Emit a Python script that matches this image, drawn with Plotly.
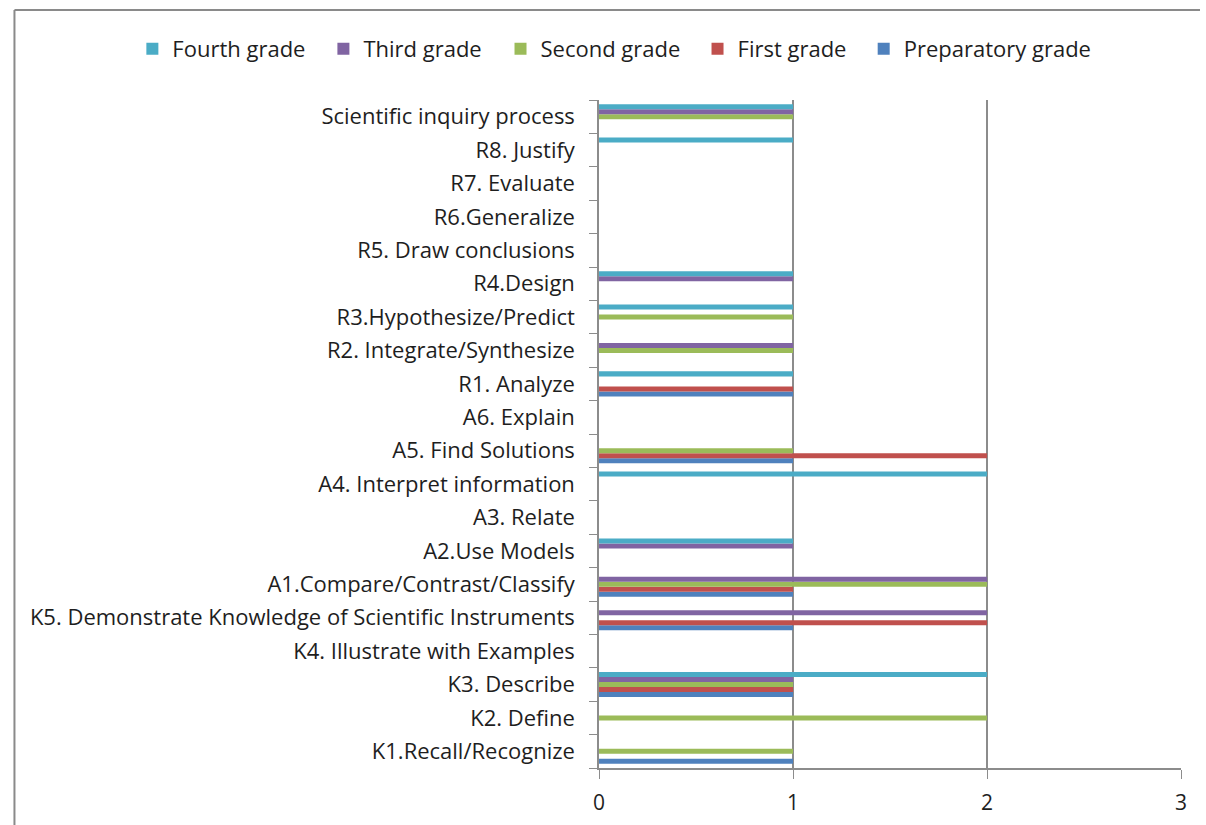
import plotly.graph_objects as go

# Skill categories, listed bottom to top
categories = [
    "K1.Recall/Recognize",
    "K2. Define",
    "K3. Describe",
    "K4. Illustrate with Examples",
    "K5. Demonstrate Knowledge of Scientific Instruments",
    "A1.Compare/Contrast/Classify",
    "A2.Use Models",
    "A3. Relate",
    "A4. Interpret information",
    "A5. Find Solutions",
    "A6. Explain",
    "R1. Analyze",
    "R2. Integrate/Synthesize",
    "R3.Hypothesize/Predict",
    "R4.Design",
    "R5. Draw conclusions",
    "R6.Generalize",
    "R7. Evaluate",
    "R8. Justify",
    "Scientific inquiry process",
]

preparatory = [1, 0, 1, 0, 1, 1, 0, 0, 0, 1, 0, 1, 0, 0, 0, 0, 0, 0, 0, 0]
first_grade = [0, 0, 1, 0, 2, 1, 0, 0, 0, 2, 0, 1, 0, 0, 0, 0, 0, 0, 0, 0]
second_grade = [1, 2, 1, 0, 0, 2, 0, 0, 0, 1, 0, 0, 1, 1, 0, 0, 0, 0, 0, 1]
third_grade = [0, 0, 1, 0, 2, 2, 1, 0, 0, 0, 0, 0, 1, 0, 1, 0, 0, 0, 0, 1]
fourth_grade = [0, 0, 2, 0, 0, 0, 1, 0, 2, 0, 0, 1, 0, 1, 1, 0, 0, 0, 1, 1]

series = [
    ("Preparatory grade", preparatory, "#4F81BD"),
    ("First grade", first_grade, "#C0504D"),
    ("Second grade", second_grade, "#9BBB59"),
    ("Third grade", third_grade, "#8064A2"),
    ("Fourth grade", fourth_grade, "#4BACC6"),
]

x_ticks = [0, 1, 2, 3]

W, H = 1206, 825
EFF_W = 1200  # drawable width of the page
FONT = "Open Sans"
TEXT = "#1E1E1E"

# left edge (px) of each series' legend entry, one small legend per series
legend_left = {
    "Fourth grade": 127,
    "Third grade": 319,
    "Second grade": 497,
    "First grade": 695,
    "Preparatory grade": 862,
}

fig = go.Figure()
legend_layouts = {}
for i, (name, vals, color) in enumerate(series):
    key = "legend" if i == 0 else f"legend{i + 1}"
    fig.add_trace(go.Bar(
        y=categories, x=vals, name=name, orientation="h",
        marker=dict(color=color, line=dict(width=0)),
        legend=key, showlegend=True,
    ))
    legend_layouts[key] = dict(
        orientation="h", visible=True,
        x=legend_left[name] / EFF_W, xanchor="left",
        y=1 - 49 / H, yanchor="middle",
        font=dict(family=FONT, size=22, color=TEXT),
        itemwidth=30, bgcolor="rgba(0,0,0,0)",
    )

# plot area in pixel terms
px_left, px_right, px_top, px_bottom = 596, 1181, 100, 768

fig.update_layout(
    width=W, height=H,
    margin=dict(l=0, r=0, t=0, b=0),
    showlegend=True,
    paper_bgcolor="white", plot_bgcolor="white",
    barmode="group", bargap=0.25, bargroupgap=0,
    font=dict(family=FONT, size=22, color=TEXT),
    xaxis=dict(
        domain=[px_left / EFF_W, px_right / EFF_W],
        range=[0, 3], tickvals=x_ticks,
        showgrid=True, gridcolor="#8C8C8C", gridwidth=1.5,
        showline=True, linecolor="#8C8C8C", linewidth=1.5,
        ticks="outside", ticklen=9, tickcolor="#8C8C8C",
        tickfont=dict(family=FONT, size=21, color=TEXT),
        ticklabelstandoff=6,
        zeroline=False, fixedrange=True,
    ),
    yaxis=dict(
        domain=[1 - px_bottom / H, 1 - px_top / H],
        type="category", categoryorder="array", categoryarray=categories,
        tickson="boundaries", ticks="outside", ticklen=8, tickcolor="#8C8C8C",
        showline=True, linecolor="#8C8C8C", linewidth=1.5,
        showgrid=False, automargin=False,
        tickfont=dict(family=FONT, size=22, color=TEXT),
        ticklabelstandoff=18,
        fixedrange=True,
    ),
    shapes=[
        dict(type="line", xref="paper", yref="paper",
             x0=8.5 / EFF_W, x1=8.5 / EFF_W, y0=0, y1=1 - 10 / H,
             line=dict(color="#8A8A8A", width=2)),
        dict(type="line", xref="paper", yref="paper",
             x0=8.5 / EFF_W, x1=1, y0=1 - 10 / H, y1=1 - 10 / H,
             line=dict(color="#8A8A8A", width=2)),
    ],
    **legend_layouts,
)

fig.write_html("out.html")
